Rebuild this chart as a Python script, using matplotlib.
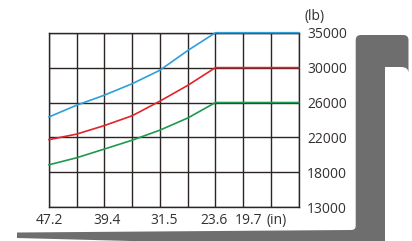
import numpy as np
import matplotlib
matplotlib.use("Agg")
import matplotlib.pyplot as plt
from matplotlib.path import Path
from matplotlib.patches import PathPatch

matplotlib.rcParams.update({"font.family": ["Open Sans", "DejaVu Sans"]})
matplotlib.rcParams.update({"font.size": 10})

# load centre distance (in), one value per grid column
load_center_in = [47.2, 43.3, 39.4, 35.4, 31.5, 27.5, 23.6, 19.7, 15.7, 11.8]

# capacity (lb)
blue_lb = [24350, 25690, 26830, 28160, 29690, 32470, 35000, 35000, 35000, 35000]
red_lb = [21750, 22380, 23350, 24490, 26150, 27980, 30000, 30000, 30000, 30000]
green_lb = [18870, 19670, 20660, 21690, 22830, 24240, 26000, 26000, 26000, 26000]

# y axis is evenly spaced rows with uneven values
y_ticks_lb = [13000, 18000, 22000, 26000, 30000, 35000]
x_tick_vals = [47.2, 39.4, 31.5, 23.6, 19.7]
x_tick_labels = ["47.2", "39.4", "31.5", "23.6", "19.7"]

grid_col = "#2b2624"
text_col = "#353031"

rows = np.arange(len(y_ticks_lb))


def to_row(vals):
    return np.interp(vals, y_ticks_lb, rows)


fig = plt.figure(figsize=(4.12, 2.41), dpi=100)

# gray fork silhouette behind the chart
bg = fig.add_axes([0, 0, 1, 1])
bg.set_xlim(0, 412)
bg.set_ylim(241, 0)
bg.axis("off")
verts = [
    (17, 232.5), (351, 230),
    (355.7, 230), (355.7, 226),
    (355.7, 40),
    (355.7, 35), (361, 35),
    (403, 35),
    (408.5, 35), (408.5, 40),
    (408.5, 73),
    (408.5, 67), (401, 67),
    (385, 67),
    (385, 241.5),
    (150, 241.5),
    (17, 238),
    (17, 232.5),
]
codes = [Path.MOVETO, Path.LINETO,
         Path.CURVE3, Path.CURVE3,
         Path.LINETO,
         Path.CURVE3, Path.CURVE3,
         Path.LINETO,
         Path.CURVE3, Path.CURVE3,
         Path.LINETO,
         Path.CURVE3, Path.CURVE3,
         Path.LINETO, Path.LINETO, Path.LINETO, Path.LINETO,
         Path.CLOSEPOLY]
bg.add_patch(PathPatch(Path(verts, codes), facecolor="#6e6e6e", edgecolor="none"))

ax = fig.add_axes([49 / 412, 1 - 207.3 / 241, 249.7 / 412, 174.6 / 241])
ax.set_xlim(47.2, 11.8)
ax.set_ylim(0, 5)

for vals, col in [(blue_lb, "#2e9fdb"), (red_lb, "#e2232a"), (green_lb, "#1e9950")]:
    ax.plot(load_center_in, to_row(vals), color=col, lw=1.2, zorder=4,
            clip_on=False, solid_joinstyle="round")

ax.set_xticks([])
ax.set_xticks(load_center_in, minor=True)
ax.tick_params(axis="x", which="both", length=0)
ax.grid(axis="x", which="minor", color=grid_col, lw=1.0)

ax.set_yticks(rows)
ax.set_yticklabels([str(v) for v in y_ticks_lb])
ax.yaxis.tick_right()
ax.tick_params(axis="y", length=0, pad=6, labelcolor=text_col, labelsize=10)
ax.grid(axis="y", which="major", color=grid_col, lw=1.0)
for s in ax.spines.values():
    s.set_color(grid_col)
    s.set_linewidth(1.0)
    s.set_zorder(2)
ax.set_axisbelow(True)

# x labels (placed a bit off the grid lines, as in the original)
x_nudge_px = [0, 3, 4, -1, 6]
for v, lab, dx in zip(x_tick_vals, x_tick_labels, x_nudge_px):
    ax.annotate(lab, xy=(v, 0), xycoords=("data", "axes fraction"),
                xytext=(dx, -13), textcoords="offset pixels",
                ha="center", va="center", color=text_col, fontsize=10)
ax.annotate("(in)", xy=(19.7, 0), xycoords=("data", "axes fraction"),
            xytext=(34, -13), textcoords="offset pixels",
            ha="center", va="center", color=text_col, fontsize=10)
ax.annotate("(lb)", xy=(1, 1), xycoords="axes fraction",
            xytext=(16, 16), textcoords="offset pixels",
            ha="center", va="center", color=text_col, fontsize=10)

fig.savefig("out.png", dpi=100)
